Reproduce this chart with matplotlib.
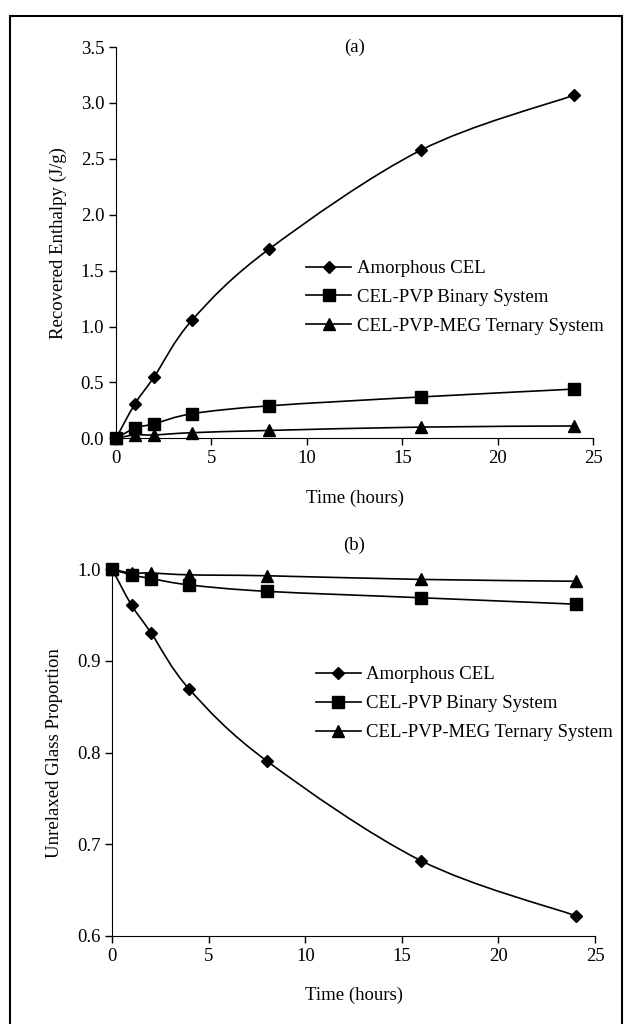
import numpy as np
import matplotlib
matplotlib.use("Agg")
import matplotlib.pyplot as plt
from matplotlib.path import Path
from matplotlib.patches import PathPatch, Rectangle
from matplotlib.lines import Line2D

plt.rcParams['font.family'] = ['Liberation Serif', 'DejaVu Serif']

# Data
hours = [0, 1, 2, 4, 8, 16, 24]
series_names = ["Amorphous CEL", "CEL-PVP Binary System", "CEL-PVP-MEG Ternary System"]
markers = ["D", "s", "^"]

enthalpy_amorphous = [0.0, 0.31, 0.55, 1.06, 1.69, 2.58, 3.07]
enthalpy_binary = [0.0, 0.09, 0.13, 0.22, 0.29, 0.37, 0.44]
enthalpy_ternary = [0.0, 0.03, 0.03, 0.05, 0.07, 0.10, 0.11]

glass_amorphous = [1.0, 0.961, 0.931, 0.869, 0.791, 0.682, 0.622]
glass_binary = [1.0, 0.994, 0.990, 0.983, 0.976, 0.969, 0.962]
glass_ternary = [1.0, 0.996, 0.996, 0.994, 0.993, 0.989, 0.987]


def smooth_path(x, y):
    # Excel-style smoothed line: cubic Bezier segments through the data points
    x = np.asarray(x, float)
    y = np.asarray(y, float)
    verts = [(x[0], y[0])]
    codes = [Path.MOVETO]
    n = len(x)
    for i in range(n - 1):
        p0 = np.array([x[max(i - 1, 0)], y[max(i - 1, 0)]])
        p1 = np.array([x[i], y[i]])
        p2 = np.array([x[i + 1], y[i + 1]])
        p3 = np.array([x[min(i + 2, n - 1)], y[min(i + 2, n - 1)]])
        c1 = p1 + (p2 - p0) / 6.0
        c2 = p2 - (p3 - p1) / 6.0
        verts += [tuple(c1), tuple(c2), tuple(p2)]
        codes += [Path.CURVE4] * 3
    return Path(verts, codes)


def msize(m):
    return 8 if m != "D" else 6.5


def draw_panel(ax, data, ylim, yticks, ylabel, tag, legend_pos):
    for vals, m in zip(data, markers):
        ax.add_patch(PathPatch(smooth_path(hours, vals), fill=False, lw=1.2,
                               edgecolor='black', transform=ax.transData,
                               clip_on=False))
        ax.plot(hours, vals, linestyle='none', marker=m, color='black',
                markersize=msize(m), clip_on=False, zorder=3)
    ax.set_xlim(0, 25)
    ax.set_ylim(*ylim)
    ax.set_xticks([0, 5, 10, 15, 20, 25])
    ax.set_yticks(yticks)
    ax.set_yticklabels(["{:.1f}".format(v) for v in yticks])
    ax.spines['top'].set_visible(False)
    ax.spines['right'].set_visible(False)
    ax.tick_params(direction='out', length=5, width=1, labelsize=13.5, colors='black')
    ax.set_xlabel("Time (hours)", fontsize=13.5, labelpad=16)
    ax.set_ylabel(ylabel, fontsize=13.5, labelpad=10)
    ax.text(0.5, 1.0, tag, transform=ax.transAxes, ha='center', va='center', fontsize=13.5)
    handles = [Line2D([], [], color='black', lw=1.2, marker=m,
                      markersize=msize(m)) for m in markers]
    ax.legend(handles, series_names, loc='upper left', bbox_to_anchor=legend_pos,
              frameon=False, fontsize=13.5, handlelength=2.4, handletextpad=0.3,
              labelspacing=0.63, borderaxespad=0)


fig = plt.figure(figsize=(6.27, 10.24), dpi=100)

ax1 = fig.add_axes([0.185, 0.572, 0.761, 0.382])
draw_panel(ax1, [enthalpy_amorphous, enthalpy_binary, enthalpy_ternary],
           (0, 3.5), [0, 0.5, 1.0, 1.5, 2.0, 2.5, 3.0, 3.5],
           "Recovered Enthalpy (J/g)", "(a)", (0.383, 0.475))

ax2 = fig.add_axes([0.179, 0.086, 0.770, 0.358])
draw_panel(ax2, [glass_amorphous, glass_binary, glass_ternary],
           (0.6, 1.0), [0.6, 0.7, 0.8, 0.9, 1.0],
           "Unrelaxed Glass Proportion", "(b)", (0.406, 0.756))
ax2.texts[0].set_position((0.5, 1.065))

# outer frame
fig.patches.append(Rectangle((10 / 627, -0.01), 612 / 627, 1 - 16 / 1024 + 0.01,
                             transform=fig.transFigure, fill=False,
                             edgecolor='black', lw=1.5))

fig.savefig("out.png", dpi=100)
